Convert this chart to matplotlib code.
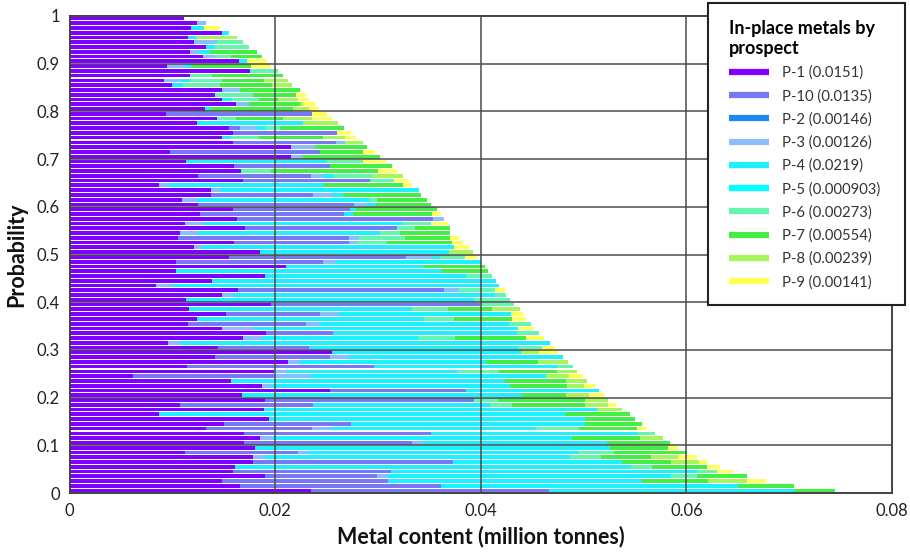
import numpy as np
import matplotlib
matplotlib.use("Agg")
import matplotlib.pyplot as plt
from matplotlib.lines import Line2D
from matplotlib.patches import Rectangle

plt.rcParams['font.family'] = ['Lato', 'DejaVu Sans']

# ---- data (rows ordered from probability 1 at the top down to 0) ----
prospects = ["P-1", "P-10", "P-2", "P-3", "P-4", "P-5", "P-6", "P-7", "P-8", "P-9"]
means = ["0.0151", "0.0135", "0.00146", "0.00126", "0.0219", "0.000903",
         "0.00273", "0.00554", "0.00239", "0.00141"]

p1 = [.0111, .0124, .0118, .0148, .0115, .0121, .0133, .0117, .0130, .0165,
      .0095, .0176, .0117, .0092, .0100, .0148, .0142, .0148, .0162, .0132,
      .0094, .0143, .0124, .0155, .0159, .0148, .0159, .0215, .0098, .0215,
      .0113, .0160, .0167, .0125, .0169, .0087, .0138, .0138, .0109, .0125,
      .0159, .0127, .0163, .0112, .0171, .0107, .0106, .0160, .0121, .0185,
      .0155, .0104, .0211, .0104, .0190, .0139, .0084, .0164, .0148, .0113,
      .0196, .0116, .0152, .0124, .0115, .0148, .0191, .0169, .0096, .0144,
      .0255, .0142, .0213, .0114, .0199, .0062, .0157, .0187, .0253, .0168,
      .0190, .0107, .0189, .0087, .0194, .0150, .0133, .0170, .0185, .0170,
      .0180, .0112, .0178, .0178, .0161, .0159, .0190, .0148, .0166, .0235]

p10 = [0, 0, 0, 0, 0, 0, 0, 0, 0, 0,
       0, 0, 0, 0, 0, 0, 0, 0, 0, 0,
       .0142, 0, 0, .0011, .0101, 0, .0100, 0, .0146, 0,
       0, .0093, 0, .0110, .0123, 0, 0, .0099, 0, .0152,
       .0114, .0140, .0191, 0, .0148, 0, .0166, .0112, 0, 0,
       .0172, .0143, 0, 0, 0, 0, 0, .0200, 0, 0,
       .0203, 0, .0092, 0, .0115, 0, .0065, 0, 0, .0089,
       0, .0111, 0, .0182, 0, .0137, 0, 0, .0133, 0,
       .0203, .0130, 0, 0, 0, .0124, .0103, .0182, 0, .0163,
       0, .0110, 0, .0195, 0, .0154, .0109, .0162, .0195, .0231]

p2 = [0] * 100

p3 = [0, .0009, 0, 0, 0, .0022, 0, .0009, .0012, 0,
      .0017, 0, 0, .0016, 0, .0018, 0, 0, .0013, 0,
      0, 0, 0, .0016, 0, 0, .0009, .0024, 0, .0012,
      0, 0, 0, .0013, 0, .0010, .0009, .0018, .0015, .0011,
      0, 0, .0010, .0019, 0, .0018, .0010, .0009, .0008, 0,
      .0026, .0011, 0, 0, 0, 0, .0017, .0015, .0011, 0,
      0, 0, .0018, 0, .0013, .0031, 0, .0018, .0011, 0,
      0, .0019, .0011, 0, .0012, .0036, 0, .0009, 0, 0,
      0, 0, 0, 0, 0, 0, .0018, 0, .0013, .0011,
      0, .0010, .0012, 0, 0, 0, .0010, 0, 0, 0]

p4 = [0, 0, .0013, .0007, .0008, 0, .0009, .0011, 0, .0008,
      .0006, 0, 0, .0008, .0010, 0, 0, .0010, 0, .0006,
      0, 0, .0103, .0008, 0, .0009, 0, 0, 0, 0,
      .0137, 0, 0, .0008, 0, .0151, .0193, .0011, .0167, .0010,
      .0006, .0009, 0, .0193, 0, .0177, 0, 0, .0245, .0184,
      .0007, .0142, .0134, .0258, .0196, .0276, .0317, 0, .0255, .0280,
      0, .0217, .0167, .0221, .0184, .0257, .0179, .0152, .0360, .0203,
      .0184, .0208, .0181, .0178, .0167, .0228, .0267, .0232, .0129, .0272,
      0, .0172, .0324, .0395, .0307, .0227, .0200, .0201, .0291, .0179,
      .0346, .0264, .0297, .0164, .0385, .0297, .0276, .0247, .0289, .0239]

p5 = [0] * 100

p6 = [0, 0, 0, 0, 0, .0026, .0033, 0, .0015, 0,
      0, .0027, .0022, .0032, .0036, 0, .0036, .0026, 0, 0,
      0, .0019, 0, .0015, 0, .0027, 0, 0, 0, 0,
      .0035, 0, .0029, .0039, .0024, 0, 0, 0, .0008, 0,
      0, 0, 0, .0028, .0017, .0019, .0044, .0028, 0, 0,
      .0025, 0, 0, 0, .0025, 0, 0, .0035, .0011, .0035,
      .0033, .0035, 0, .0029, .0022, 0, .0022, .0036, 0, .0024,
      0, 0, 0, .0016, .0040, 0, 0, 0, 0, 0,
      .0024, .0021, 0, 0, 0, 0, .0042, .0016, 0, 0,
      0, .0034, .0030, 0, .0021, .0020, .0025, 0, 0, 0]

p7 = [0, 0, 0, 0, 0, 0, 0, .0045, .0030, 0,
      .0059, 0, .0069, .0041, .0051, .0058, .0042, .0019, .0049, .0079,
      0, .0046, 0, .0062, 0, .0063, 0, .0050, .0041, .0075,
      0, .0061, .0104, 0, 0, .0076, 0, .0076, .0049, .0054,
      .0078, .0077, 0, 0, .0034, .0049, .0044, .0063, 0, 0,
      0, 0, .0059, .0045, 0, 0, 0, 0, 0, 0,
      0, .0043, 0, .0056, 0, 0, 0, .0069, 0, 0,
      0, 0, .0051, 0, .0056, 0, .0059, .0056, 0, .0043,
      .0084, .0071, 0, .0063, .0049, .0056, .0056, 0, .0066, .0061,
      .0056, .0071, .0049, .0048, .0053, 0, .0049, .0064, .0055, .0040]

p8 = [0, 0, 0, 0, .0040, 0, 0, 0, 0, 0,
      0, 0, 0, .0024, .0019, 0, 0, .0019, .0003, .0016,
      0, .0028, .0034, 0, 0, .0021, .0017, 0, 0, 0,
      0, 0, 0, .0029, 0, 0, 0, 0, 0, 0,
      0, 0, 0, 0, 0, 0, 0, 0, 0, .0023,
      0, 0, 0, 0, 0, 0, 0, 0, 0, 0,
      0, .0027, 0, 0, 0, 0, 0, 0, 0, 0,
      .0018, 0, .0029, 0, .0020, .0023, .0020, .0016, 0, .0022,
      .0023, .0023, .0024, 0, 0, 0, 0, 0, .0022, 0,
      0, 0, .0026, .0027, 0, 0, 0, .0038, 0, 0]

p9 = [0, 0, .0015, 0, 0, 0, 0, 0, 0, .0019,
      .0019, 0, 0, 0, 0, 0, .0010, .0011, .0012, .0010,
      .0014, .0019, 0, 0, .0014, .0011, 0, 0, .0012, 0,
      .0023, 0, .0019, 0, .0013, .0009, 0, 0, 0, 0,
      0, .0008, 0, .0016, 0, 0, .0009, .0011, .0015, 0,
      .0011, 0, 0, 0, 0, 0, 0, .0010, 0, 0,
      0, 0, .0012, .0014, 0, .0016, 0, .0018, 0, .0012,
      .0018, 0, 0, 0, 0, .0013, 0, .0011, 0, .0015,
      0, .0008, 0, 0, 0, 0, .0010, 0, 0, 0,
      .0010, 0, .0018, .0008, .0013, .0015, 0, .0018, 0, 0]

series = [p1, p10, p2, p3, p4, p5, p6, p7, p8, p9]
colors = ['#7F00FF', '#7878F5', '#1E88F5', '#8CBEFA', '#1EF0FF', '#00FFFF',
          '#66F5B0', '#44EE44', '#A6F55A', '#FFFF55']

xticks = [0, 0.02, 0.04, 0.06, 0.08]
xticklabels = ["0", "0.02", "0.04", "0.06", "0.08"]
yticks = [0, 0.1, 0.2, 0.3, 0.4, 0.5, 0.6, 0.7, 0.8, 0.9, 1.0]
yticklabels = ["0", "0.1", "0.2", "0.3", "0.4", "0.5", "0.6", "0.7", "0.8", "0.9", "1"]

# ---- figure ----
W, H = 910, 552
fig = plt.figure(figsize=(W / 100, H / 100), dpi=100)
ax = fig.add_axes([69.5 / W, 1 - 493 / H, (892 - 69.5) / W, (493 - 16) / H])

n = len(p1)
prob = 1 - (np.arange(n) + 0.5) / n
left = np.zeros(n)
for vals, col in zip(series, colors):
    v = np.array(vals, dtype=float)
    ax.barh(prob, v, left=left, height=0.0078, color=col, edgecolor='none',
            linewidth=0, zorder=1)
    left += v

ax.set_xlim(0, 0.08)
ax.set_ylim(0, 1)
ax.set_xticks(xticks)
ax.set_xticklabels(xticklabels)
ax.set_yticks(yticks)
ax.set_yticklabels(yticklabels)
ax.tick_params(length=0, labelsize=12, colors='#222222', pad=7)
ax.set_axisbelow(False)
ax.grid(True, color='#4a4a4a', linewidth=1.1)
for s in ax.spines.values():
    s.set_color('#333333')
    s.set_linewidth(1.3)
ax.set_xlabel("Metal content (million tonnes)", fontsize=15.5, fontweight='bold',
              labelpad=5, color='#111111')
ax.set_ylabel("Probability", fontsize=15.5, fontweight='bold', labelpad=7,
              color='#111111')

# ---- legend ----
fig.patches.append(Rectangle((708 / W, 1 - 305 / H), (905 - 708) / W, (305 - 3) / H,
                             transform=fig.transFigure, facecolor='white',
                             edgecolor='#222222', linewidth=1.5, zorder=3))
handles = [Line2D([0], [0], color=c, lw=4.5, solid_capstyle='butt') for c in colors]
labels = [f"{p} ({m})" for p, m in zip(prospects, means)]
leg = fig.legend(handles, labels, loc='upper left',
                 bbox_to_anchor=(729 / W, 1 - 20 / H), frameon=False,
                 fontsize=10.7, handlelength=2.7, handletextpad=0.9,
                 labelspacing=0.6, borderpad=0, borderaxespad=0,
                 title="In-place metals by\nprospect",
                 title_fontproperties={'weight': 'bold', 'size': 13},
                 alignment='left')
leg.set_zorder(5)
for t in leg.get_texts():
    t.set_color('#333333')

fig.savefig("out.png", dpi=100)
